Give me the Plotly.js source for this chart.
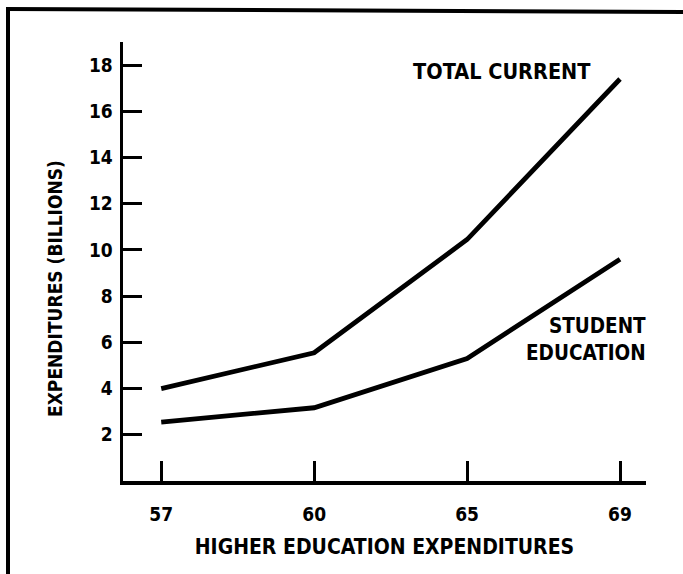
<!DOCTYPE html>
<html>
<head>
<meta charset="utf-8">
<script src="https://cdn.plot.ly/plotly-3.0.1.min.js"></script>
<style>html,body{margin:0;padding:0;background:#fff;}#chart{width:683px;height:574px;}</style>
</head>
<body>
<div id="chart"></div>
<script>
// Data
var years = ['57', '60', '65', '69'];
var totalCurrent = [4.0, 5.55, 10.45, 17.4];
var studentEducation = [2.55, 3.17, 5.3, 9.6];
var yTicks = [2, 4, 6, 8, 10, 12, 14, 16, 18];

var FONT = '"DejaVu Sans Condensed", "DejaVu Sans", sans-serif';

var traces = [
  {x: years, y: totalCurrent, type: 'scatter', mode: 'lines', name: 'TOTAL CURRENT',
   line: {color: '#000', width: 4.8}, showlegend: false, hoverinfo: 'x+y'},
  {x: years, y: studentEducation, type: 'scatter', mode: 'lines', name: 'STUDENT EDUCATION',
   line: {color: '#000', width: 4.8}, showlegend: false, hoverinfo: 'x+y'}
];

var layout = {
  width: 683, height: 574,
  margin: {l: 123, r: 37, t: 42, b: 93},
  paper_bgcolor: '#fff', plot_bgcolor: '#fff',
  font: {family: FONT, color: '#000', size: 18, weight: 'bold'},
  xaxis: {
    type: 'category', range: [-0.25, 3.17],
    showline: true, linecolor: '#000', linewidth: 3.5,
    ticks: 'inside', ticklen: 20, tickwidth: 3, tickcolor: '#000',
    showgrid: false, zeroline: false,
    ticklabelstandoff: 14,
    tickfont: {family: FONT, size: 19, weight: 'bold'},
    title: {text: 'HIGHER EDUCATION EXPENDITURES', standoff: 16,
            font: {family: FONT, size: 21, weight: 'bold'}}
  },
  yaxis: {
    range: [0, 19],
    tickvals: yTicks, ticktext: yTicks.map(String),
    showline: true, linecolor: '#000', linewidth: 3.5,
    ticks: 'inside', ticklen: 19, tickwidth: 3, tickcolor: '#000',
    showgrid: false, zeroline: false,
    ticklabelstandoff: 3,
    tickfont: {family: FONT, size: 19, weight: 'bold'}
  },
  annotations: [
    {xref: 'paper', yref: 'paper', x: (55 - 123) / 523, y: (481 - 289) / 439,
     text: 'EXPENDITURES (BILLIONS)', textangle: -90, showarrow: false,
     xanchor: 'center', yanchor: 'middle',
     font: {family: FONT, size: 19, weight: 'bold'}},
    {xref: 'paper', yref: 'paper', x: (502 - 123) / 523, y: (481 - 71) / 439,
     text: 'TOTAL CURRENT', showarrow: false, xanchor: 'center', yanchor: 'middle',
     font: {family: FONT, size: 21.5, weight: 'bold'}},
    {xref: 'paper', yref: 'paper', x: (648 - 123) / 523, y: (481 - 339) / 439,
     text: 'STUDENT<br>EDUCATION', showarrow: false, xanchor: 'right', yanchor: 'middle',
     align: 'right', font: {family: FONT, size: 20.5, weight: 'bold'}}
  ],
  shapes: [
    {type: 'line', xref: 'paper', yref: 'paper', layer: 'above',
     x0: -115 / 523, x1: -115 / 523, y0: (481 - 8) / 439, y1: (481 - 580) / 439,
     line: {color: '#000', width: 4}},
    {type: 'line', xref: 'paper', yref: 'paper', layer: 'above',
     x0: -117 / 523, x1: (690 - 123) / 523, y0: (481 - 9) / 439, y1: (481 - 12) / 439,
     line: {color: '#000', width: 4}}
  ]
};

Plotly.newPlot('chart', traces, layout, {displayModeBar: false, staticPlot: true});
</script>
</body>
</html>
